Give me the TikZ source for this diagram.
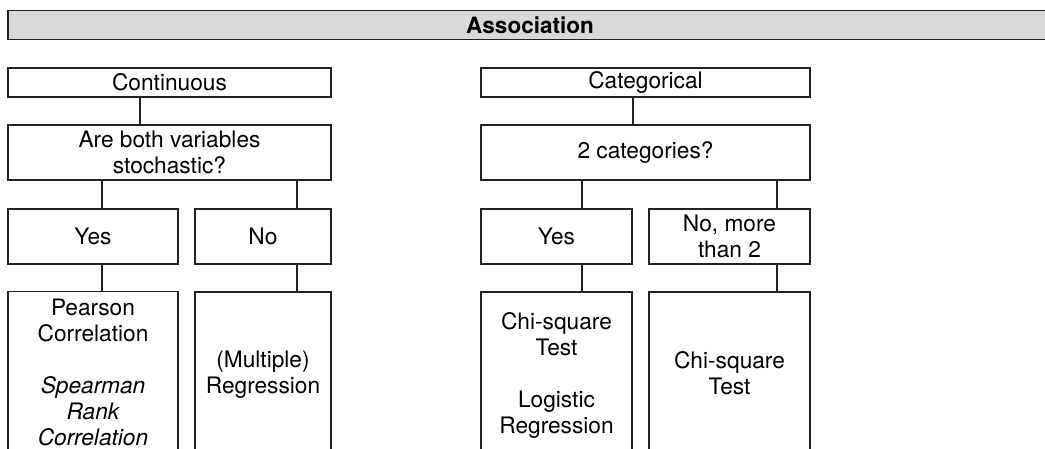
\documentclass[tikz,border=0pt]{standalone}
\usepackage{fontspec}
\setmainfont{TeX Gyre Heros}
\usepackage{tikz}
\usetikzlibrary{calc}
\definecolor{barfill}{HTML}{D9D9D9}
\definecolor{ink}{HTML}{222222}
\tikzstyle{box}=[shape=rectangle,draw=ink,line width=1.9pt,align=center,inner sep=0pt]
\tikzstyle{head}=[box,fill=barfill,font=\bfseries\fontsize{22.5}{26}\selectfont]
\tikzstyle{ln}=[draw=ink,line width=1.9pt]

\begin{document}
\begin{tikzpicture}[x=1pt,y=-1pt,font=\fontsize{22.7}{26}\selectfont]
\useasboundingbox (0,0) rectangle (1045,448);
\clip (0,0) rectangle (1045,448);

% header
\node[head, minimum width=1044pt, minimum height=29pt] (assoc) at (530,25) {Association};

% continuous
\node[box, minimum width=323pt, minimum height=29pt] (cont) at (169.5,82.5) {Continuous};
\node[box, minimum width=323pt, minimum height=55pt] (stoch) at (169.5,152.5) {Are both variables\\stochastic?};
\node[box, minimum width=170pt, minimum height=55pt] (yes1) at (93,236.5) {Yes};
\node[box, minimum width=136pt, minimum height=55pt] (no1) at (263,236.5) {No};
\node[box, minimum width=170pt, minimum height=161pt] (pearson) at (93,372)
  {Pearson\\Correlation\\[26pt]\itshape Spearman\\\itshape Rank\\\itshape Correlation};
\node[box, minimum width=136pt, minimum height=166pt] (multreg) at (263,375) {(Multiple)\\Regression};

% categorical
\node[box, minimum width=329pt, minimum height=29pt] (cat) at (645.5,82.5) {Categorical};
\node[box, minimum width=329pt, minimum height=55pt] (twocat) at (645.5,152.5) {2 categories?};
\node[box, minimum width=151pt, minimum height=55pt] (yes2) at (556.5,236.5) {Yes};
\node[box, minimum width=161pt, minimum height=55pt] (more) at (729.5,236.5) {No, more\\than 2};
\node[box, minimum width=151pt, minimum height=166pt] (chisq) at (556.5,375)
  {Chi-square\\Test\\[26pt]Logistic\\Regression};
\node[box, minimum width=161pt, minimum height=162pt] (chisqb) at (729.5,373) {Chi-square\\Test};

%paths
\path [ln] (cont.south -| 140,0) -- (stoch.north -| 140,0);
\path [ln] (stoch.south -| 102,0) -- (yes1.north -| 102,0);
\path [ln] (stoch.south -| 297,0) -- (no1.north -| 297,0);
\path [ln] (yes1.south -| 102,0) -- (pearson.north -| 102,0);
\path [ln] (no1.south -| 297,0) -- (multreg.north -| 297,0);

\path [ln] (cat.south -| 633,0) -- (twocat.north -| 633,0);
\path [ln] (twocat.south -| 582,0) -- (yes2.north -| 582,0);
\path [ln] (twocat.south -| 777,0) -- (more.north -| 777,0);
\path [ln] (yes2.south -| 582,0) -- (chisq.north -| 582,0);
\path [ln] (more.south -| 777,0) -- (chisqb.north -| 777,0);

\end{tikzpicture}
\end{document}
